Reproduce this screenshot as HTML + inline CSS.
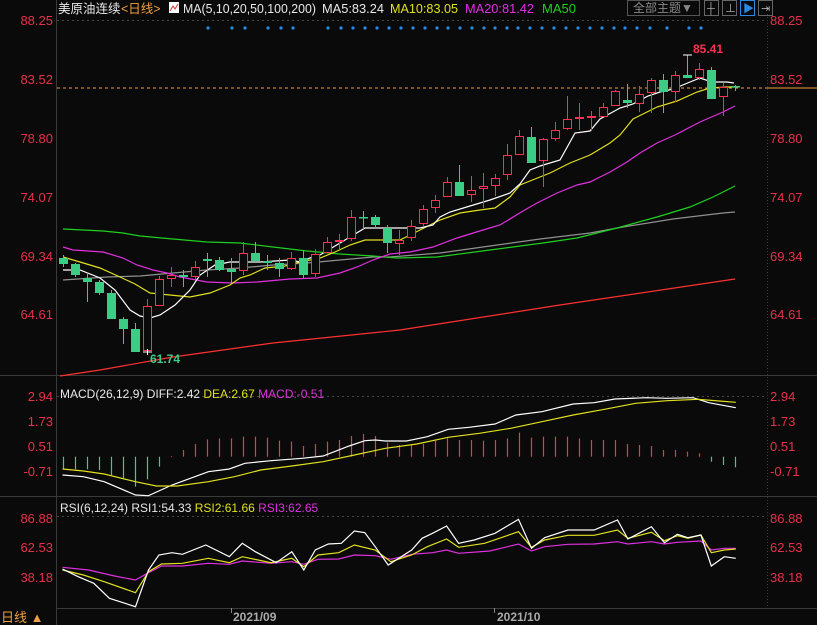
<!DOCTYPE html>
<html><head><meta charset="utf-8"><style>
html,body{margin:0;padding:0;background:#0a0a0a;}
svg{display:block;font-family:"Liberation Sans","Noto Sans CJK SC",sans-serif;}
</style></head><body>
<svg id="s" width="817" height="625" viewBox="0 0 817 625" xmlns="http://www.w3.org/2000/svg">
<rect width="817" height="625" fill="#0a0a0a"/>
<line x1="56.5" y1="0" x2="56.5" y2="625" stroke="#3a3a3a"/>
<line x1="767.5" y1="14" x2="767.5" y2="608" stroke="#3a3a3a" stroke-dasharray="1,2"/>
<line x1="0" y1="375.5" x2="817" y2="375.5" stroke="#3a3a3a"/>
<line x1="0" y1="496.5" x2="817" y2="496.5" stroke="#3a3a3a"/>
<line x1="56" y1="608.5" x2="817" y2="608.5" stroke="#3a3a3a"/>
<line x1="231.5" y1="608" x2="231.5" y2="613" stroke="#888"/>
<line x1="494.5" y1="608" x2="494.5" y2="613" stroke="#888"/>
<line x1="57" y1="20.5" x2="767" y2="20.5" stroke="#444" stroke-dasharray="2,3"/>
<line x1="57" y1="396.5" x2="767" y2="396.5" stroke="#444" stroke-dasharray="2,3"/>
<line x1="57" y1="516.5" x2="767" y2="516.5" stroke="#444" stroke-dasharray="2,3"/>
<line x1="57" y1="88" x2="767" y2="88" stroke="#f0a040" stroke-dasharray="3,3"/>
<line x1="767" y1="88" x2="817" y2="88" stroke="#f0a040"/>
<text x="58" y="13" font-size="12.5" fill="#e8e8e8">美原油连续</text>
<text x="121" y="13" font-size="12.5" fill="#f0a040">&lt;日线&gt;</text>
<rect x="169" y="2" width="10" height="11" fill="#fff"/>
<polyline points="170,11 173,6 175,9 178,4" stroke="#d03030" fill="none"/>
<text x="183" y="13" font-size="12.5" fill="#e8e8e8" textLength="133" lengthAdjust="spacingAndGlyphs">MA(5,10,20,50,100,200)</text>
<text x="322" y="13" font-size="12.5" fill="#e8e8e8" textLength="62" lengthAdjust="spacingAndGlyphs">MA5:83.24</text>
<text x="390" y="13" font-size="12.5" fill="#e0e020" textLength="68" lengthAdjust="spacingAndGlyphs">MA10:83.05</text>
<text x="465" y="13" font-size="12.5" fill="#e030e0" textLength="69" lengthAdjust="spacingAndGlyphs">MA20:81.42</text>
<text x="542" y="13" font-size="12.5" fill="#20d020" textLength="34" lengthAdjust="spacingAndGlyphs">MA50</text>
<rect x="627.5" y="0.5" width="72" height="15" fill="none" stroke="#555"/>
<text x="633" y="12" font-size="12" fill="#888">全部主题▼</text>
<rect x="704.5" y="0.5" width="14" height="15" fill="none" stroke="#666"/>
<rect x="722.5" y="0.5" width="14" height="15" fill="none" stroke="#666"/>
<rect x="740.5" y="0.5" width="14" height="15" fill="none" stroke="#2a8ae0"/>
<rect x="758.5" y="0.5" width="14" height="15" fill="none" stroke="#666"/>
<text x="707" y="12" font-size="11" fill="#aaa">┼</text>
<text x="725" y="12" font-size="11" fill="#aaa">⊥</text>
<text x="743" y="12" font-size="11" fill="#2a8ae0">▶</text>
<text x="761" y="12" font-size="11" fill="#aaa">⇥</text>
<g id="axes" font-size="13" fill="#e8304a"></g>
<g id="plot"></g>
<text x="693" y="53" font-size="12" font-weight="bold" fill="#ff3050">85.41</text>
<text x="150" y="363" font-size="12" font-weight="bold" fill="#3dcc85">61.74</text>
<text x="60" y="398" font-size="12" fill="#e8e8e8">MACD(26,12,9) DIFF:2.42 <tspan fill="#e0e020">DEA:2.67</tspan> <tspan fill="#e030e0">MACD:-0.51</tspan></text>
<text x="60" y="512" font-size="12" fill="#e8e8e8">RSI(6,12,24) RSI1:54.33 <tspan fill="#e0e020">RSI2:61.66</tspan> <tspan fill="#e030e0">RSI3:62.65</tspan></text>
<text x="233" y="621" font-size="12" font-weight="bold" fill="#aaa">2021/09</text>
<text x="497" y="621" font-size="12" font-weight="bold" fill="#aaa">2021/10</text>
<text x="1" y="622" font-size="13" fill="#f0a040">日线 ▲</text>
</svg>
<script>
var NS="http://www.w3.org/2000/svg",P=document.getElementById('plot'),A=document.getElementById('axes');
function el(t,a,p){var e=document.createElementNS(NS,t);for(var k in a)e.setAttribute(k,a[k]);(p||P).appendChild(e);return e;}
function tx(x,y,s,anchor){var e=el('text',{x:x,y:y,'text-anchor':anchor},A);e.textContent=s;}
[[88.25,20],[83.52,79],[78.80,138],[74.07,197],[69.34,256],[64.61,314],["2.94",396],["1.73",421],["0.51",446],["-0.71",471],["86.88",518],["62.53",547],["38.18",577]].forEach(function(l){
 var s=typeof l[0]=="number"?l[0].toFixed(2):l[0];tx(53,l[1]+5,s,'end');tx(770,l[1]+5,s,'start');});
[208,232,245,268,281,293,328,341,353,365,377,389,401,413,425,437,448,460,472,484,495,507,518,530,542,554,566,578,590,602,614,625,637,650,667,689,701].forEach(function(x){el('circle',{cx:x,cy:28,r:1.6,fill:'#2a8ae0'});});
function pl(pts,c){el('polyline',{points:pts.map(function(p){return p[0]+','+p[1]}).join(' '),fill:'none',stroke:c,'stroke-width':1.2});}
pl([[60,376],[100,370],[173,357],[273,343],[400,330],[560,305],[735,279]],'#ff3030');
pl([[63,280],[107,277],[140,276],[173,273],[207,270],[240,268],[273,265],[307,263],[340,260],[373,257],[390,257],[440,253],[490,246],[540,239],[590,233],[623,227],[673,219],[723,213],[735,212]],'#909090');
pl([[63,229],[103,231],[123,233],[140,236],[173,239],[207,242],[240,243],[273,247],[307,251],[340,254],[373,256],[397,258],[437,257],[490,250],[543,243],[577,238],[617,228],[657,217],[690,207],[713,197],[735,186]],'#20d020');
pl([[63,247],[73,250],[103,252],[123,258],[137,265],[153,270],[167,273],[180,277],[207,282],[233,283],[257,282],[290,279],[317,278],[340,273],[357,267],[373,260],[390,254],[410,252],[433,247],[457,238],[483,230],[500,225],[523,211],[537,203],[557,193],[577,185],[590,182],[610,172],[627,162],[640,153],[657,143],[675,135],[700,122],[723,112],[735,106]],'#e030e0');
pl([[63,257],[80,262],[100,268],[120,277],[135,284],[150,293],[170,295],[190,297],[210,293],[230,285],[240,278],[250,275],[265,268],[285,266],[300,262],[320,258],[335,252],[350,245],[365,240],[390,240],[400,240],[420,230],[440,220],[460,213],[480,210],[495,208],[510,197],[520,185],[540,177],[550,173],[570,163],[590,155],[610,143],[620,135],[633,119],[657,107],[677,101],[697,92],[710,88],[727,87],[735,87]],'#e0e020');
pl([[63,270],[80,270],[100,278],[115,290],[130,310],[140,316],[150,318],[160,315],[175,305],[190,290],[200,275],[215,265],[230,262],[260,262],[290,260],[300,262],[310,258],[320,255],[340,243],[365,228],[390,228],[420,228],[433,225],[440,217],[450,212],[470,206],[490,200],[510,193],[520,184],[530,170],[540,166],[560,160],[575,133],[590,131],[600,119],[620,108],[633,104],[648,96],[660,92],[673,89],[690,82],[700,78],[712,82],[727,82],[734,83]],'#ffffff');
var C=[["g",258,264,255,267],["g",264,275,263,277],["g",278,282,272,302],["g",282,293,280,295],["g",293,319,290,319],["g",319,329,317,344],["g",329,352,323,352],["r",306,351,299,352],["r",279,306,276,306],["r",275,279,267,287],["g",275,277,270,287],["r",267,277,261,280],["g",259,261,253,277],["g",260,270,257,271],["g",269,272,258,283],["r",253,271,242,275],["g",253,261,242,262],["g",261,263,255,270],["g",263,269,258,277],["r",258,269,252,270],["g",258,275,250,278],["r",254,274,249,277],["r",242,253,237,253],["r",240,242,234,249],["r",217,239,210,241],["g",217,218,211,229],["g",217,225,215,229],["g",228,243,225,253],["r",240,244,230,255],["r",226,238,220,241],["r",209,224,205,227],["r",200,208,195,213],["r",182,197,177,197],["g",182,196,165,196],["r",190,195,176,202],["r",186,189,173,208],["r",178,186,174,196],["r",155,175,144,180],["r",136,155,130,155],["g",137,163,127,163],["r",139,161,138,187],["r",130,139,122,141],["r",119,129,96,130],["r",117,119,103,130],["r",116,117,111,131],["r",107,117,103,117],["r",91,106,90,106],["g",100,103,84,108],["r",94,104,86,112],["r",80,93,78,113],["g",80,92,74,113],["r",75,92,71,102],["g",75,78,55,78],["r",69,78,63,80],["g",70,99,67,99],["r",87,97,83,116],["g",86,87,85,91]];
C.forEach(function(c,i){var x=63+12*i,col=c[0]=="g"?"#3dcc85":"#ff3050";
 el('line',{x1:x+.5,y1:c[3],x2:x+.5,y2:c[4],stroke:col});
 var h=c[2]-c[1];
 if(c[0]=="g")el('rect',{x:x-4,y:c[1],width:9,height:Math.max(h,1.5),fill:col});
 else if(h<3)el('rect',{x:x-4,y:c[1],width:9,height:2,fill:col});
 else el('rect',{x:x-3.5,y:c[1]+.5,width:8,height:h-1,fill:'#0a0a0a',stroke:col});
});
el('line',{x1:143,y1:352,x2:152,y2:352,stroke:'#fff'});el('line',{x1:147.5,y1:349,x2:147.5,y2:355,stroke:'#fff'});
el('line',{x1:683,y1:55,x2:692,y2:55,stroke:'#fff'});
var MB=[298,298,298,300,315,325,350,328,290,258,240,222,208,205,205,200,200,203,212,215,228,222,215,210,198,192,198,218,225,225,222,212,205,210,210,212,210,205,188,203,200,200,200,205,210,210,210,222,225,228,240,240,245,250,275,285,292];
MB.forEach(function(v,i){var x=63+12*i+.5,y=370+v/3,z=456.7;el('line',{x1:x,y1:z,x2:x,y2:y,stroke:y>z?'#3dcc85':'#ff3050','stroke-width':1.2});});
function zl(pts,c){pl(pts.map(function(p){return[(p[0]/1.919).toFixed(1),(370+p[1]/3).toFixed(1)]}),c);}
zl([[120,315],[160,320],[200,335],[260,375],[285,377],[330,345],[400,305],[440,297],[470,280],[520,272],[580,265],[620,258],[670,228],[700,212],[720,210],[740,213],[780,213],[820,200],[860,178],[900,172],[950,162],[990,135],[1040,125],[1100,102],[1140,98],[1180,87],[1240,83],[1280,85],[1330,83],[1360,98],[1412,113]],'#ffffff');
zl([[120,297],[160,303],[200,312],[260,335],[300,348],[340,348],[400,335],[450,320],[500,300],[560,288],[620,275],[680,255],[740,235],[800,222],[860,202],[920,190],[980,175],[1040,155],[1100,135],[1160,118],[1220,100],[1280,92],[1340,88],[1380,93],[1412,97]],'#e0e020');
zl([[120,592],[170,600],[220,618],[260,630],[285,608],[310,588],[350,588],[400,580],[440,583],[465,573],[520,580],[560,575],[583,583],[610,568],[650,567],[680,555],[720,557],[750,568],[790,553],[830,548],[857,540],[880,550],[940,543],[995,522],[1020,543],[1045,530],[1090,523],[1140,522],[1185,515],[1205,522],[1250,515],[1275,522],[1300,517],[1345,513],[1365,540],[1390,535],[1412,535]],'#e030e0');
zl([[120,600],[160,615],[200,635],[260,668],[285,605],[310,582],[350,580],[400,565],[440,578],[465,560],[520,578],[560,565],[583,590],[610,555],[650,548],[680,525],[720,540],[750,575],[790,555],[820,530],[857,507],[880,532],[930,520],[995,485],[1020,532],[1045,510],[1090,496],[1140,496],[1185,480],[1205,505],[1250,487],[1275,512],[1300,497],[1320,505],[1345,495],[1365,548],[1390,540],[1412,537]],'#e0e020');
zl([[120,597],[150,620],[180,640],[210,685],[260,710],[285,600],[305,555],[330,548],[350,553],[395,525],[440,560],[465,520],[490,545],[530,578],[560,545],[583,600],[605,540],[630,522],[655,520],[680,483],[700,488],[720,530],[745,585],[790,540],[810,505],[830,490],[857,468],[880,520],[910,510],[950,490],[995,448],[1020,535],[1045,503],[1090,480],[1140,480],[1185,450],[1205,507],[1250,470],[1275,518],[1300,493],[1320,503],[1345,495],[1365,588],[1390,560],[1412,565]],'#ffffff');
</script>
</body></html>
